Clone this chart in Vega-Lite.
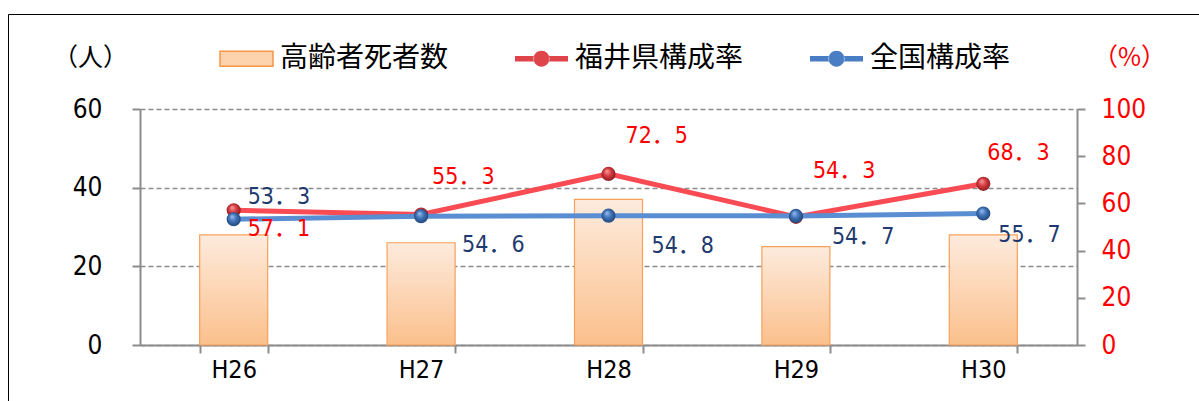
{
  "$schema": "https://vega.github.io/schema/vega-lite/v6.json",
  "width": 937,
  "height": 236,
  "autosize": {"type": "none"},
  "padding": {"left": 140, "top": 109, "right": 122, "bottom": 56},
  "background": "white",
  "config": {
    "view": {"stroke": null},
    "locale": {"number": {"decimal": "．", "thousands": ",", "grouping": [3], "currency": ["", ""]}}
  },
  "datasets": {
    "counts": [
      {"year": "H26", "count": 28},
      {"year": "H27", "count": 26},
      {"year": "H28", "count": 37},
      {"year": "H29", "count": 25},
      {"year": "H30", "count": 28}
    ],
    "rates": [
      {"year": "H26", "series": "福井県構成率", "rate": 57.1},
      {"year": "H27", "series": "福井県構成率", "rate": 55.3},
      {"year": "H28", "series": "福井県構成率", "rate": 72.5},
      {"year": "H29", "series": "福井県構成率", "rate": 54.3},
      {"year": "H30", "series": "福井県構成率", "rate": 68.3},
      {"year": "H26", "series": "全国構成率", "rate": 53.3},
      {"year": "H27", "series": "全国構成率", "rate": 54.6},
      {"year": "H28", "series": "全国構成率", "rate": 54.8},
      {"year": "H29", "series": "全国構成率", "rate": 54.7},
      {"year": "H30", "series": "全国構成率", "rate": 55.7}
    ]
  },
  "encoding": {
    "x": {
      "field": "year", "type": "nominal", "sort": null,
      "scale": {"paddingInner": 0.637, "paddingOuter": 0.3185},
      "axis": {
        "title": null, "labelAngle": 0,
        "labelFont": "DejaVu Sans Condensed", "labelFontSize": 25, "labelColor": "#000000",
        "labelPadding": 4,
        "domainColor": "#8c8c8c", "domainWidth": 2,
        "tickColor": "#8c8c8c", "tickWidth": 2, "tickSize": 8, "tickBand": "extent"
      }
    }
  },
  "layer": [
    {
      "data": {"name": "counts"},
      "mark": {
        "type": "bar",
        "color": {
          "gradient": "linear", "x1": 0, "y1": 0, "x2": 0, "y2": 1,
          "stops": [{"offset": 0, "color": "#FDEBDD"}, {"offset": 1, "color": "#FBC08C"}]
        },
        "stroke": "#F9A05A", "strokeWidth": 1.2
      },
      "encoding": {
        "y": {
          "field": "count", "type": "quantitative",
          "scale": {"domain": [0, 60], "nice": false},
          "axis": {
            "orient": "left", "values": [0, 20, 40, 60],
            "title": "（人）", "titleAngle": 0, "titleX": -50, "titleY": -52,
            "titleAlign": "center", "titleBaseline": "middle",
            "titleFont": "Noto Sans CJK JP", "titleFontSize": 25, "titleFontWeight": "normal", "titleColor": "#000000",
            "labelFont": "DejaVu Sans Condensed", "labelFontSize": 26, "labelColor": "#000000", "labelPadding": 30,
            "domainColor": "#8c8c8c", "domainWidth": 2,
            "tickColor": "#8c8c8c", "tickWidth": 2, "tickSize": 8,
            "grid": true, "gridColor": "#8c8c8c", "gridDash": [5, 3], "gridWidth": 1.5
          }
        }
      }
    },
    {
      "data": {"name": "rates"},
      "encoding": {
        "y": {
          "field": "rate", "type": "quantitative",
          "scale": {"domain": [0, 100], "nice": false},
          "axis": {
            "orient": "right", "values": [0, 20, 40, 60, 80, 100],
            "title": "（%）", "titleAngle": 0, "titleX": 52, "titleY": -52,
            "titleAlign": "center", "titleBaseline": "middle",
            "titleFont": "Noto Sans CJK JP", "titleFontSize": 25, "titleFontWeight": "normal", "titleColor": "#FF0000",
            "labelFont": "DejaVu Sans Condensed", "labelFontSize": 26, "labelColor": "#FF0000", "labelPadding": 16,
            "domainColor": "#8c8c8c", "domainWidth": 2,
            "tickColor": "#8c8c8c", "tickWidth": 2, "tickSize": 8,
            "grid": false
          }
        }
      },
      "layer": [
        {
          "transform": [{"filter": "datum.series === '福井県構成率'"}],
          "mark": {"type": "line", "color": "#F84B53", "strokeWidth": 5}
        },
        {
          "transform": [{"filter": "datum.series === '全国構成率'"}],
          "mark": {"type": "line", "color": "#5A8ED3", "strokeWidth": 5}
        },
        {
          "transform": [{"filter": "datum.series === '福井県構成率'"}],
          "mark": {
            "type": "point", "filled": true, "size": 200, "opacity": 1, "strokeWidth": 0,
            "fill": {
              "gradient": "radial", "x1": 0.38, "y1": 0.3, "r1": 0, "x2": 0.5, "y2": 0.5, "r2": 0.6,
              "stops": [{"offset": 0, "color": "#F5A0A2"}, {"offset": 0.45, "color": "#D63A40"}, {"offset": 1, "color": "#7A1418"}]
            }
          }
        },
        {
          "transform": [{"filter": "datum.series === '全国構成率'"}],
          "mark": {
            "type": "point", "filled": true, "size": 200, "opacity": 1, "strokeWidth": 0,
            "fill": {
              "gradient": "radial", "x1": 0.38, "y1": 0.3, "r1": 0, "x2": 0.5, "y2": 0.5, "r2": 0.6,
              "stops": [{"offset": 0, "color": "#9CC0EC"}, {"offset": 0.45, "color": "#3E72B8"}, {"offset": 1, "color": "#1C3C6A"}]
            }
          }
        },
        {
          "transform": [{"filter": "datum.series === '福井県構成率' && datum.year === 'H26'"}],
          "mark": {"type": "text", "align": "left", "baseline": "middle", "dx": 14, "dy": 19, "font": "DejaVu Sans Condensed, Noto Sans CJK JP", "fontSize": 23, "color": "#FF0000"},
          "encoding": {"text": {"field": "rate", "format": ".1f"}}
        },
        {
          "transform": [{"filter": "datum.series === '福井県構成率' && datum.year === 'H27'"}],
          "mark": {"type": "text", "align": "left", "baseline": "middle", "dx": 11, "dy": -37, "font": "DejaVu Sans Condensed, Noto Sans CJK JP", "fontSize": 23, "color": "#FF0000"},
          "encoding": {"text": {"field": "rate", "format": ".1f"}}
        },
        {
          "transform": [{"filter": "datum.series === '福井県構成率' && datum.year === 'H28'"}],
          "mark": {"type": "text", "align": "left", "baseline": "middle", "dx": 17, "dy": -38, "font": "DejaVu Sans Condensed, Noto Sans CJK JP", "fontSize": 23, "color": "#FF0000"},
          "encoding": {"text": {"field": "rate", "format": ".1f"}}
        },
        {
          "transform": [{"filter": "datum.series === '福井県構成率' && datum.year === 'H29'"}],
          "mark": {"type": "text", "align": "left", "baseline": "middle", "dx": 17, "dy": -46, "font": "DejaVu Sans Condensed, Noto Sans CJK JP", "fontSize": 23, "color": "#FF0000"},
          "encoding": {"text": {"field": "rate", "format": ".1f"}}
        },
        {
          "transform": [{"filter": "datum.series === '福井県構成率' && datum.year === 'H30'"}],
          "mark": {"type": "text", "align": "left", "baseline": "middle", "dx": 4, "dy": -31, "font": "DejaVu Sans Condensed, Noto Sans CJK JP", "fontSize": 23, "color": "#FF0000"},
          "encoding": {"text": {"field": "rate", "format": ".1f"}}
        },
        {
          "transform": [{"filter": "datum.series === '全国構成率' && datum.year === 'H26'"}],
          "mark": {"type": "text", "align": "left", "baseline": "middle", "dx": 14, "dy": -22, "font": "DejaVu Sans Condensed, Noto Sans CJK JP", "fontSize": 23, "color": "#1F3A6E"},
          "encoding": {"text": {"field": "rate", "format": ".1f"}}
        },
        {
          "transform": [{"filter": "datum.series === '全国構成率' && datum.year === 'H27'"}],
          "mark": {"type": "text", "align": "left", "baseline": "middle", "dx": 41, "dy": 29, "font": "DejaVu Sans Condensed, Noto Sans CJK JP", "fontSize": 23, "color": "#1F3A6E"},
          "encoding": {"text": {"field": "rate", "format": ".1f"}}
        },
        {
          "transform": [{"filter": "datum.series === '全国構成率' && datum.year === 'H28'"}],
          "mark": {"type": "text", "align": "left", "baseline": "middle", "dx": 43, "dy": 30, "font": "DejaVu Sans Condensed, Noto Sans CJK JP", "fontSize": 23, "color": "#1F3A6E"},
          "encoding": {"text": {"field": "rate", "format": ".1f"}}
        },
        {
          "transform": [{"filter": "datum.series === '全国構成率' && datum.year === 'H29'"}],
          "mark": {"type": "text", "align": "left", "baseline": "middle", "dx": 36, "dy": 21, "font": "DejaVu Sans Condensed, Noto Sans CJK JP", "fontSize": 23, "color": "#1F3A6E"},
          "encoding": {"text": {"field": "rate", "format": ".1f"}}
        },
        {
          "transform": [{"filter": "datum.series === '全国構成率' && datum.year === 'H30'"}],
          "mark": {"type": "text", "align": "left", "baseline": "middle", "dx": 15, "dy": 21, "font": "DejaVu Sans Condensed, Noto Sans CJK JP", "fontSize": 23, "color": "#1F3A6E"},
          "encoding": {"text": {"field": "rate", "format": ".1f"}}
        },
        {
          "transform": [{"filter": "datum.rate > 1000"}],
          "mark": {"type": "point", "filled": true, "opacity": 1},
          "encoding": {
            "color": {
              "field": "series", "type": "nominal",
              "scale": {"domain": ["高齢者死者数", "福井県構成率", "全国構成率"], "range": ["#FDD3AE", "#E0444B", "#4A7EC4"]},
              "legend": {
                "title": null, "orient": "none", "direction": "horizontal",
                "legendX": 79, "legendY": -78, "padding": 0,
                "columns": 3, "gridAlign": "all", "columnPadding": 63,
                "symbolSize": 2809, "symbolStrokeWidth": 0, "symbolOpacity": 1,
                "labelFont": "Noto Sans CJK JP", "labelFontSize": 28, "labelColor": "#000000", "labelOffset": 6, "labelLimit": 400,
                "encode": {"symbols": {"update": {"stroke": {"signal": "datum.value === '高齢者死者数' ? '#F79646' : 'transparent'"}, "strokeWidth": {"value": 1.5}}}}
              }
            },
            "shape": {
              "field": "series", "type": "nominal",
              "scale": {
                "domain": ["高齢者死者数", "福井県構成率", "全国構成率"],
                "range": [
                  "M-1,-0.28H1V0.28H-1Z",
                  "M-1,-0.1H-0.28V0.1H-1Z M0.28,-0.1H1V0.1H0.28Z M-0.3,0A0.3,0.3 0 1,0 0.3,0A0.3,0.3 0 1,0 -0.3,0Z",
                  "M-1,-0.1H-0.28V0.1H-1Z M0.28,-0.1H1V0.1H0.28Z M-0.3,0A0.3,0.3 0 1,0 0.3,0A0.3,0.3 0 1,0 -0.3,0Z"
                ]
              },
              "legend": {
                "title": null, "orient": "none", "direction": "horizontal",
                "legendX": 79, "legendY": -78, "padding": 0,
                "columns": 3, "gridAlign": "all", "columnPadding": 63,
                "symbolSize": 2809, "symbolStrokeWidth": 0, "symbolOpacity": 1,
                "labelFont": "Noto Sans CJK JP", "labelFontSize": 28, "labelColor": "#000000", "labelOffset": 6, "labelLimit": 400,
                "encode": {"symbols": {"update": {"stroke": {"signal": "datum.value === '高齢者死者数' ? '#F79646' : 'transparent'"}, "strokeWidth": {"value": 1.5}}}}
              }
            },
            "size": {
              "datum": 1, "type": "quantitative",
              "scale": {"domain": [0, 1], "range": [0, 0]},
              "legend": {
                "title": null, "orient": "none", "legendX": -132, "legendY": -95,
                "values": [1], "padding": 620, "labelExpr": "''",
                "strokeColor": "#000000",
                "symbolSize": 0, "symbolOpacity": 0, "symbolStrokeWidth": 0,
                "labelFontSize": 1, "labelColor": "transparent", "labelOpacity": 0,
                "encode": {"legend": {"update": {"strokeWidth": {"value": 2}}}}
              }
            }
          }
        }
      ]
    }
  ],
  "resolve": {"scale": {"y": "independent"}}
}
